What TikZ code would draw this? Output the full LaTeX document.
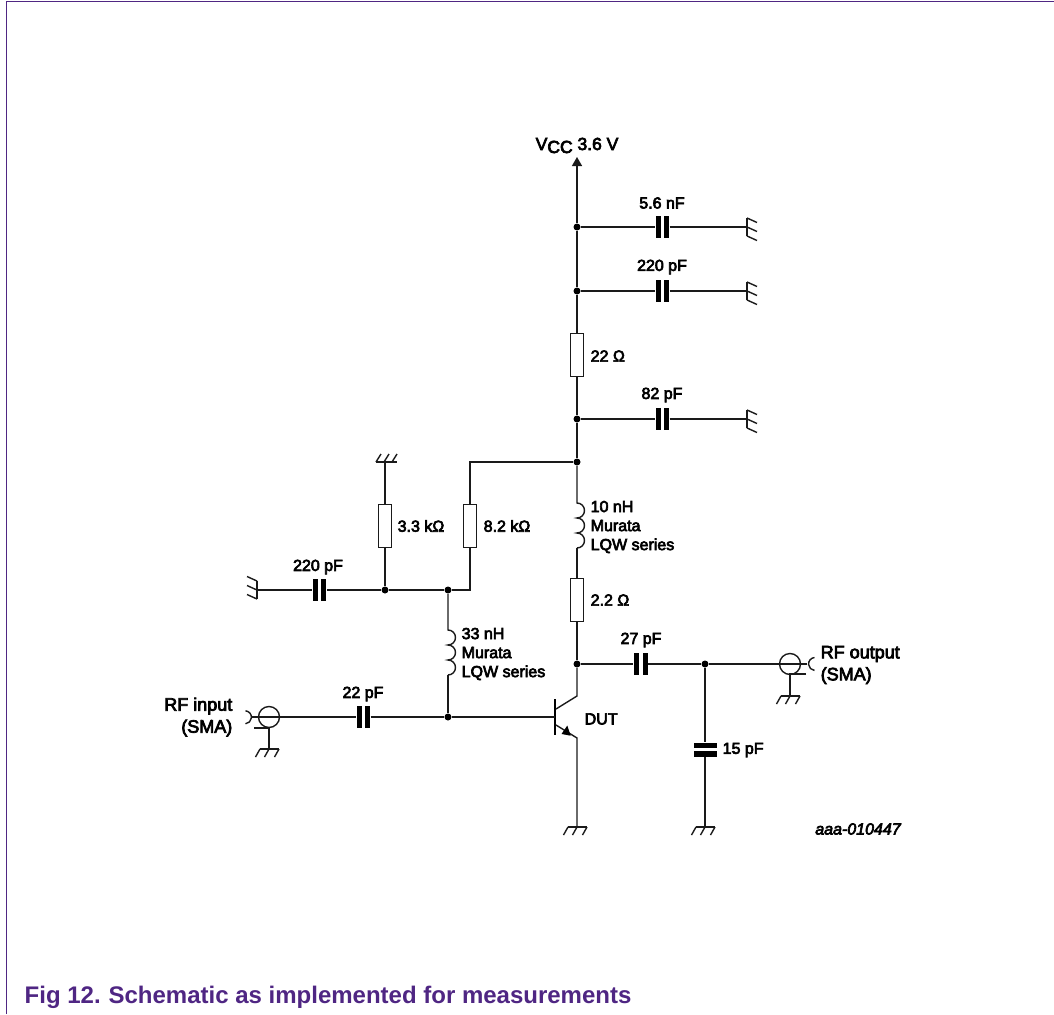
\documentclass[tikz,border=0pt]{standalone}
\usepackage{fontspec}
\setmainfont{Liberation Sans}[FakeBold=4]
\newfontfamily\capfont{Liberation Sans}[BoldFont={Liberation Sans Bold}]
\usetikzlibrary{arrows.meta}
\definecolor{nxp}{HTML}{4F2683}
\definecolor{wire}{HTML}{1A1A1A}
\newcommand{\gndD}[2]{\coordinate (#1) at (#2);
 \draw[wire] ([xshift=-9pt]#1) -- ([xshift=10pt]#1);
 \foreach \dx in {-9,0,10}{\draw[wire] ([xshift=\dx pt]#1) -- ([xshift=\dx pt -4.5pt,yshift=-8pt]#1);}}
\newcommand{\gndU}[2]{\coordinate (#1) at (#2);
 \draw[wire] ([xshift=-9pt]#1) -- ([xshift=12pt]#1);
 \foreach \dx in {-9,-1,7}{\draw[wire] ([xshift=\dx pt]#1) -- ([xshift=\dx pt +5pt,yshift=8pt]#1);}}
\newcommand{\gndR}[2]{\coordinate (#1) at (#2);
 \draw[wire] ([yshift=9pt]#1) -- ([yshift=-9pt]#1);
 \foreach \dy in {9,0,-9}{\draw[wire] ([yshift=\dy pt]#1) -- ([xshift=10pt,yshift=\dy pt -4.5pt]#1);}}
\newcommand{\gndL}[2]{\coordinate (#1) at (#2);
 \draw[wire] ([yshift=9pt]#1) -- ([yshift=-9pt]#1);
 \foreach \dy in {9,0,-9}{\draw[wire] ([yshift=\dy pt]#1) -- ([xshift=-10pt,yshift=\dy pt +4.5pt]#1);}}
\tikzset{
 x=1pt,y=-1pt,
 wire/.style={draw=wire,line width=1.4pt},
 every path/.style={line width=1.4pt},
 junction/.style={circle,fill=black,inner sep=0pt,minimum size=7pt},
 resbox/.style={draw=wire,fill=white,line width=1.4pt,inner sep=0pt,minimum width=13pt,minimum height=43pt},
 hplate/.style={fill=black,inner sep=0pt,minimum width=5pt,minimum height=22pt},
 vplate/.style={fill=black,inner sep=0pt,minimum width=23pt,minimum height=5.5pt},
 lbl/.style={inner sep=0pt,font=\fontsize{16}{19}\selectfont,text=black},
 lleft/.style={lbl,anchor=west,align=left},
 lright/.style={lbl,anchor=east,align=right},
 lcenter/.style={lbl,anchor=center},
 rflbl/.style={font=\fontsize{18}{22}\selectfont},
}
\begin{document}
\begin{tikzpicture}
\useasboundingbox (0,0) rectangle (1054,1014);
% frame
\draw[nxp,line width=1.3pt] (6.5,1014) -- (6.5,1.5) -- (1054,1.5);
\node[inner sep=0pt,anchor=base west,text=nxp,font=\capfont\bfseries\fontsize{24}{26}\selectfont] (cap) at (24,1003) {Fig 12.\hspace{-1pt} Schematic as implemented for measurements};
% supply rail nodes
\coordinate (vcc) at (577,157);
\node[junction] (j1) at (577,227) {};
\node[junction] (j2) at (577,291) {};
\node[junction] (j3) at (577,419) {};
\node[junction] (j4) at (577,462) {};
\node[junction] (j5) at (577,664) {};
\node[junction] (j6) at (705,664) {};
\node[junction] (j7) at (385,590) {};
\node[junction] (j8) at (448,590) {};
\node[junction] (j9) at (448,717) {};
\node[resbox] (r22) at (577,355) {};
\node[resbox] (r22b) at (577,600) {};
\node[resbox] (r33) at (385,526) {};
\node[resbox] (r82) at (470,526) {};
\coordinate (corner1) at (470,462);
\coordinate (corner2) at (470,590);
% grounds
\gndR{g1}{747,227}
\gndR{g2}{747,291}
\gndR{g3}{747,419}
\gndL{g4}{257,590}
\gndU{g5}{385,462}
\gndD{g6}{577,827}
\gndD{g7}{705,827}
\gndD{g8}{269,749}
\gndD{g9}{790,696}
% rail
\draw[wire,-{Triangle[length=9pt,width=10pt]}] (j1) -- (vcc);
\draw[wire] (j1) -- (j2);
\draw[wire] (j2) -- (r22);
\draw[wire] (r22) -- (j3);
\draw[wire] (j3) -- (j4);
% capacitors to ground
\node[hplate] (c1a) at (658,227) {}; \node[hplate] (c1b) at (666.5,227) {};
\draw[wire] (j1) -- (c1a); \draw[wire] (c1b) -- (g1);
\node[hplate] (c2a) at (658,291) {}; \node[hplate] (c2b) at (666.5,291) {};
\draw[wire] (j2) -- (c2a); \draw[wire] (c2b) -- (g2);
\node[hplate] (c3a) at (658,419) {}; \node[hplate] (c3b) at (666.5,419) {};
\draw[wire] (j3) -- (c3a); \draw[wire] (c3b) -- (g3);
% inductor 10 nH
\coordinate (l1t) at (577,503);
\coordinate (l1b) at (577,548);
\draw[wire] (j4) -- (l1t) arc[start angle=-90,end angle=90,radius=7.5] arc[start angle=-90,end angle=90,radius=7.5] arc[start angle=-90,end angle=90,radius=7.5] -- (l1b);
\draw[wire] (l1b) -- (r22b);
\draw[wire] (r22b) -- (j5);
% bias
\draw[wire] (j4) -- (corner1) -- (r82);
\draw[wire] (r82) -- (corner2) -- (j8);
\draw[wire] (j8) -- (j7);
\draw[wire] (r33) -- (g5);
\draw[wire] (r33) -- (j7);
\node[hplate] (c4a) at (315,590) {}; \node[hplate] (c4b) at (323.5,590) {};
\draw[wire] (j7) -- (c4b); \draw[wire] (c4a) -- (g4);
% inductor 33 nH
\coordinate (l2t) at (448,630);
\coordinate (l2b) at (448,675);
\draw[wire] (j8) -- (l2t) arc[start angle=-90,end angle=90,radius=7.5] arc[start angle=-90,end angle=90,radius=7.5] arc[start angle=-90,end angle=90,radius=7.5] -- (l2b);
\draw[wire] (l2b) -- (j9);
% transistor
\coordinate (base) at (555,717);
\coordinate (coll) at (577,696);
\coordinate (emit) at (577,738);
\draw[line width=2.6pt,draw=black] (555,699) -- (555,735);
\draw[wire] (j9) -- (base);
\draw[wire] (556,709) -- (coll) -- (j5);
\draw[wire] (556,725) -- (emit) -- (g6);
\fill[black] (570.7,735.7) -- (561.5,734) -- (567.3,725.5) -- cycle;
% input connector
\node[circle,draw=wire,line width=1.4pt,inner sep=0pt,minimum size=21pt] (inc) at (269,717) {};
\coordinate (int) at (252,717);
\node[hplate] (c5a) at (359,717) {}; \node[hplate] (c5b) at (367.5,717) {};
\draw[wire] (int) -- (c5a);
\draw[wire] (c5b) -- (j9);
\draw[wire] (245.5,710.8) arc[start angle=-85,end angle=85,radius=6.5];
\draw[wire] (254,728) -- (269,728) -- (g8);
% output
\node[hplate] (c6a) at (636.5,664) {}; \node[hplate] (c6b) at (645,664) {};
\draw[wire] (j5) -- (c6a); \draw[wire] (c6b) -- (j6);
\node[circle,draw=wire,line width=1.4pt,inner sep=0pt,minimum size=21pt] (outc) at (790,664) {};
\coordinate (outt) at (807,664);
\draw[wire] (j6) -- (outt);
\draw[wire] (814.5,657.5) arc[start angle=-95,end angle=-265,radius=6.5];
\draw[wire] (806,674) -- (790,674) -- (g9);
% 15 pF
\node[vplate] (c7a) at (705,745.5) {}; \node[vplate] (c7b) at (705,754) {};
\draw[wire] (j6) -- (c7a); \draw[wire] (c7b) -- (g7);
% labels
\node[lbl,anchor=base west,font=\fontsize{17.5}{19}\selectfont] (lvcc) at (535,150) {V\raisebox{-3pt}{CC} 3.6 V};
\node[lcenter] (t1) at (662,203) {5.6 nF};
\node[lcenter] (t2) at (662,267) {220 pF};
\node[lcenter] (t3) at (662,395) {82 pF};
\node[lleft] (t4) at (590,356) {22 Ω};
\node[lleft] (t5) at (590,527) {10 nH\\Murata\\LQW series};
\node[lleft] (t6) at (590,600) {2.2 Ω};
\node[lcenter] (t7) at (641,640) {27 pF};
\node[lleft] (t8) at (584,719) {DUT};
\node[lleft] (t9) at (722,750) {15 pF};
\node[lleft,rflbl] (t10) at (820,665) {RF output\\(SMA)};
\node[lright,rflbl] (t11) at (233,717) {RF input\\(SMA)};
\node[lcenter] (t12) at (363,694) {22 pF};
\node[lleft] (t13) at (461,654) {33 nH\\Murata\\LQW series};
\node[lcenter] (t14) at (318,567) {220 pF};
\node[lleft] (t15) at (397,526) {3.3 kΩ};
\node[lleft] (t16) at (483,526) {8.2 kΩ};
\node[lcenter,font=\itshape\fontsize{16}{18}\selectfont] (t17) at (858,829) {aaa-010447};
\end{tikzpicture}
\end{document}
